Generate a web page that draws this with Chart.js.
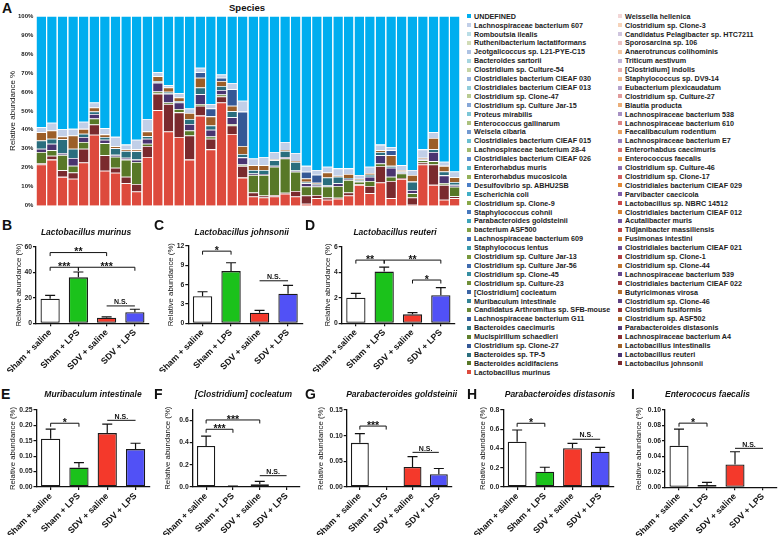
<!DOCTYPE html>
<html><head><meta charset="utf-8">
<script src="https://cdn.jsdelivr.net/npm/chart.js@4.4.1/dist/chart.umd.min.js"></script>
<style>
html,body{margin:0;padding:0;background:#fff;overflow:hidden}
#root{position:relative;width:778px;height:536px;overflow:hidden;font-family:'Liberation Sans',Arial,Helvetica,sans-serif;background:#fff}
.letter{position:absolute;font-weight:bold;font-size:14px;line-height:14px;color:#111}
.lg{position:absolute;font-weight:bold;font-size:7.2px;line-height:9px;color:#222;white-space:nowrap}
.sq{position:absolute;width:4px;height:4px}
</style></head><body><div id="root"></div>
<script>
// ---------------- DATA ----------------
const legendCol1 = ['UNDEFINED','Lachnospiraceae bacterium 607','Romboutsia ilealis','Ruthenibacterium lactatiformans','Jeotgalicoccus sp. L21-PYE-C15','Bacteroides sartorii','Clostridium sp. Culture-54','Clostridiales bacterium CIEAF 030','Clostridiales bacterium CIEAF 013','Clostridium sp. Clone-47','Clostridium sp. Culture Jar-15','Proteus mirabilis','Enterococcus gallinarum','Weisela cibaria','Clostridiales bacterium CIEAF 015','Lachnospiraceae bacterium 28-4','Clostridiales bacterium CIEAF 026','Enterorhabdus muris','Enterorhabdus mucosicola','Desulfovibrio sp. ABHU2SB','Escherichia coli','Clostridium sp. Clone-9','Staphylococcus cohnii','Parabacteroides goldsteinii','bacterium ASF500','Lachnospiraceae bacterium 609','Staphylococus lentus','Clostridium sp. Culture Jar-13','Clostridium sp. Culture Jar-56','Clostridium sp. Clone-45','Clostridium sp. Culture-23','[Clostridium] cocleatum','Muribaculum intestinale','Candidatus Arthromitus sp. SFB-mouse','Lachnospiraceae bacterium G11','Bacteroides caecimuris','Mucispirillum schaedleri','Clostridium sp. Clone-27','Bacteroides sp. TP-5','Bacteroides acidifaciens','Lactobacillus murinus'];
const legendCol2 = ['Weissella hellenica','Clostridium sp. Clone-3','Candidatus Pelagibacter sp. HTC7211','Sporosarcina sp. 106','Anaerotruncus colihominis','Triticum aestivum','[Clostridium] indolis','Staphylococcus sp. DV9-14','Eubacterium plexicaudatum','Clostridium sp. Culture-27','Blautia producta','Lachnospiraceae bacterium 538','Lachnospiraceae bacterium 610','Faecalibaculum rodentium','Lachnospiraceae bacterium E7','Enterorhabdus caecimuris','Enterococcus faecalis','Clostridium sp. Culture-46','Clostridium sp. Clone-17','Clostridiales bacterium CIEAF 029','Parvibacter caecicola','Lactobacillus sp. NBRC 14512','Clostridiales bacterium CIEAF 012','Acutalibacter muris','Tidjanibacter massiliensis','Fusimonas intestini','Clostridiales bacterium CIEAF 021','Clostridium sp. Clone-1','Clostridium sp. Clone-44','Lachnospiraceae bacterium 539','Clostridiales bacterium CIEAF 022','Butyricimonas virosa','Clostridium sp. Clone-46','Clostridium fusiformis','Clostridium sp. ASF502','Parabacteroides distasonis','Lachnospiraceae bacterium A4','Lactobacillus intestinalis','Lactobacillus reuteri','Lactobacilus johnsonii'];

const sampleIds = ['S1','S2','S3','S4','S5','S6','S7','S8','S9','S10','S11','S12','S13','S14','S15','S16','S17','S18','S19','S20','S21','S22','S23','S24','S25','S26','S27','S28','S29','S30','S31','S32','S33','S34','S35','S36','S37','S38','S39','S40'];

const lacMurinus      = [21.7,24.3,15.2,14.2,22.8,37.4,18.4,17.4,11.8,7.5, 25.7,50.4,39.1,36.2,24.3,47.5,29.7,54.4,37.8,14.8, 4.9,4.3,4.9,6.3,4.9,1.0,4.0,3.1,3.7,5.4, 11.0,6.6,12.2,4.0,14.1,0.5,21.7,11.0,3.1,4.0];
const lacJohnsonii    = [0.7,2.0,3.5,3.3,7.2,5.4,8.2,2.6,3.5,4.0, 5.8,8.7,14.5,13.0,12.7,5.2,5.6,3.2,4.5,6.2, 2.1,1.1,0.8,0.5,2.9,4.4,1.7,1.2,0.5,1.6, 0.3,3.8,8.7,9.0,0.5,3.8,1.1,10.7,7.9,1.0];
const bacAcidifaciens = [5.9,2.9,8.1,3.6,3.6,3.2,6.4,5.8,9.0,11.6, 1.2,1.1,0.8,1.8,2.7,0.9,1.2,1.0,0.8,0.7, 9.2,10.8,14.8,18.1,10.1,4.7,4.4,5.8,6.2,6.6, 1.4,2.6,1.4,2.3,2.4,2.3,1.2,1.8,1.0,5.0];
const lacReuteri      = [1.7,3.5,1.0,4.1,2.6,2.3,1.8,1.0,1.0,1.2, 2.6,4.7,4.7,3.4,3.4,5.2,3.5,2.4,3.5,3.8, 0.8,0.5,0.5,0.8,0.6,1.7,1.0,0.5,1.5,0.5, 0.5,2.3,4.3,4.7,0.5,1.7,0.5,4.8,4.0,1.0];
const bacTP5          = [4.4,2.6,7.2,4.8,1.7,1.4,1.4,3.5,3.5,4.4, 1.3,0.8,1.0,0.8,2.6,3.5,2.3,2.1,3.2,1.8, 1.8,2.1,3.0,3.2,4.6,0.8,0.5,4.3,3.4,0.5, 0.5,1.0,1.7,1.0,0.5,4.4,0.3,1.5,2.0,1.5];
const lacIntestinalis = [4.4,4.4,1.5,7.0,2.6,2.1,1.4,1.0,0.8,1.0, 2.6,2.6,2.2,1.8,3.2,5.2,4.8,2.6,2.9,4.2, 2.6,2.6,0.5,0.5,0.5,1.8,0.5,2.6,0.5,2.1, 0.5,1.0,1.0,5.6,0.8,3.5,0.5,5.9,3.0,2.5];
const cloClone27      = [0,0,0,0,0,0,0,0,0,0, 0,0,0,0,0,2.9,4.2,1.8,8.7,18.1, 0,0,0,0,0,3.5,4.2,0,0,0, 0,0,0,2.6,0,0,0,0,0,0];
const minorPale       = [2.6,4.0,3.8,3.5,3.8,2.6,3.3,5.0,2.6,5.1, 6.5,2.1,1.2,2.3,2.4,2.3,2.3,1.7,3.3,5.7, 3.5,4.3,3.8,4.2,4.2,3.1,2.5,3.0,3.9,3.0, 2.0,3.2,2.9,1.8,2.6,2.6,4.4,3.1,2.2,3.0];
const undefinedPct    = [58.6,56.3,59.7,59.5,55.7,45.6,59.1,63.7,67.8,65.2, 54.3,29.6,36.5,40.7,48.7,27.3,46.4,30.8,35.3,44.7, 75.1,74.3,71.7,66.4,72.2,79.0,81.2,79.5,80.3,80.3, 83.8,79.5,67.8,69.0,78.6,81.2,70.3,61.2,76.8,82.0];
const yTicksA = [0,10,20,30,40,50,60,70,80,90,100];

const groups = ['Sham + saline','Sham + LPS','SDV + saline','SDV + LPS'];
const murinusMean = [19.2,36.0,4.4,8.7],      murinusSem = [2.6,4.2,0.6,2.3];
const johnsoniiMean = [4.2,8.1,1.65,4.6],     johnsoniiSem = [0.7,1.3,0.35,1.3];
const reuteriMean = [2.0,4.05,0.7,2.2],       reuteriSem = [0.35,0.35,0.13,0.6];
const muribaculumMean = [0.157,0.063,0.175,0.123], muribaculumSem = [0.031,0.016,0.029,0.019];
const cocleatumMean = [0.369,0.005,0.025,0.0],     cocleatumSem = [0.09,0.003,0.025,0];
const goldsteiniiMean = [0.086,0.0,0.039,0.025],   goldsteiniiSem = [0.018,0,0.02,0.011];
const distasonisMean = [0.47,0.159,0.402,0.367],   distasonisSem = [0.122,0.046,0.052,0.045];
const faecalisMean = [0.0537,0.003,0.0294,0],      faecalisSem = [0.0216,0.0035,0.0166,0];

// significance brackets: [from, to, yValue, label]
const sigB = [[0,2,55.4,'**'],[0,1,43.9,'***'],[1,3,43.9,'***'],[2,3,13.6,'N.S.']];
const sigC = [[0,1,11.2,'*'],[2,3,6.6,'N.S.']];
const sigD = [[0,1,4.95,'**'],[1,3,4.95,'**'],[2,3,3.39,'*']];
const sigE = [[0,1,0.207,'*'],[2,3,0.2165,'N.S.']];
const sigF = [[0,2,0.604,'***'],[0,1,0.52,'***'],[2,3,0.102,'N.S.']];
const sigG = [[0,1,0.1187,'***'],[2,3,0.0675,'N.S.']];
const sigH = [[0,1,0.662,'*'],[2,3,0.496,'N.S.']];
const sigI = [[0,1,0.083,'*'],[2,3,0.0504,'N.S.']];

// ---------------- SETUP ----------------
const FONT = "'Liberation Sans', Arial, Helvetica, sans-serif";
Chart.defaults.font.family = FONT;
Chart.defaults.color = '#111';
Chart.defaults.animation = false;
const root = document.getElementById('root');

function hex2rgb(h){return [parseInt(h.slice(1,3),16),parseInt(h.slice(3,5),16),parseInt(h.slice(5,7),16)];}
function mix(a,b,t){const A=hex2rgb(a),B=hex2rgb(b);return 'rgb('+A.map((v,i)=>Math.round(v+(B[i]-v)*t)).join(',')+')';}
const families = [
  ['#7a2a2e','#c84a4a','#f2d6d6'],
  ['#587828','#88a848','#dde5c9'],
  ['#4a3470','#7e5ca8','#ddd7e7'],
  ['#2a6e7e','#40aec6','#cde5eb'],
  ['#9c5e28','#e08838','#fae0d0'],
  ['#345896','#4a7ec6','#d5ddee']
];
function speciesColor(name,k){
  if(name==='UNDEFINED') return '#00aeef';
  if(k===0) return '#dd4a3d';
  const f=families[(k-1)%6]; const l=Math.floor((k-1)/6);
  return l<=6 ? mix(f[0],f[1],l/6) : mix(f[1],f[2],(l-6)/7);
}

const legendItems = [];
for(let r=0;r<legendCol1.length;r++){ legendItems.push(legendCol1[r]); if(r<legendCol2.length) legendItems.push(legendCol2[r]); }
const stackOrder = legendItems.slice().reverse();

const seriesValues = {
  'Lactobacillus murinus': lacMurinus,
  'Lactobacilus johnsonii': lacJohnsonii,
  'Bacteroides acidifaciens': bacAcidifaciens,
  'Lactobacillus reuteri': lacReuteri,
  'Bacteroides sp. TP-5': bacTP5,
  'Lactobacillus intestinalis': lacIntestinalis,
  'Clostridium sp. Clone-27': cloClone27,
  'Lachnospiraceae bacterium 607': minorPale,
  'UNDEFINED': undefinedPct
};

function makeCanvas(x,y,w,h){
  const c=document.createElement('canvas'); c.width=w; c.height=h;
  c.style.cssText=`position:absolute;left:${x}px;top:${y}px;width:${w}px;height:${h}px`;
  root.appendChild(c); return c;
}
function addDiv(cls,text,x,y,extra){
  const d=document.createElement('div'); d.className=cls; d.textContent=text;
  d.style.left=x+'px'; d.style.top=y+'px'; if(extra) d.style.cssText+=extra; root.appendChild(d); return d;
}

// ---------------- PANEL A ----------------
addDiv('letter','A',2,1.4);
addDiv('lg','Species',200,2,'width:94px;text-align:center;font-size:9.5px;line-height:11px;color:#111');

const dsA = [];
stackOrder.forEach((name,k)=>{
  if(seriesValues[name]) dsA.push({label:name,data:seriesValues[name],backgroundColor:speciesColor(name,k),
    borderColor:'rgba(255,255,255,0.75)',borderWidth:{top:0.8,left:0,right:0,bottom:0},borderSkipped:'start',
    barPercentage:0.9,categoryPercentage:1.0});
});
new Chart(makeCanvas(0,0,462,212),{
  type:'bar',
  data:{labels:sampleIds,datasets:dsA},
  options:{responsive:false,devicePixelRatio:1,animation:false,
    layout:{padding:{left:0,top:16,right:2,bottom:4.3}},
    plugins:{legend:{display:false},tooltip:{enabled:false}},
    scales:{
      x:{stacked:true,display:false,offset:true},
      y:{stacked:true,min:0,max:100,
        afterBuildTicks:s=>{s.ticks=yTicksA.map(v=>({value:v}));},
        afterFit:s=>{s.width=36;},
        ticks:{callback:v=>v+'%',font:{size:6,weight:'bold'},color:'#222',padding:2.7},
        grid:{display:false,drawTicks:false},border:{display:false},
        title:{display:true,text:'Relative abundance %',font:{size:8},color:'#111',padding:{top:8.2,bottom:0}}}
    }
  }
});

legendItems.forEach((name,j)=>{
  const col=j%2,row=Math.floor(j/2),k=legendItems.length-1-j;
  const cy=16.3+row*8.9;
  const sq=document.createElement('div'); sq.className='sq';
  sq.style.left=(col?617.5:466.5)+'px'; sq.style.top=(cy-2)+'px'; sq.style.background=speciesColor(name,k);
  root.appendChild(sq);
  addDiv('lg',name,col?625:474,cy-4.6);
});

// ---------------- SMALL PANELS ----------------
const barColors=['#ffffff','#1bc21b','#f4392b','#5151f6'];
const panels=[
  {letter:'B',lx:2,ly:218.4,title:'Lactobacillus murinus',mean:murinusMean,sem:murinusSem,sig:sigB,ymax:60,step:20,dec:0,
   left:36,right:149,top:246.7,bottom:323.3,titleX:86,titleY:233,yTitleD:17},
  {letter:'C',lx:154,ly:218.4,title:'Lactobacillus johnsonii',mean:johnsoniiMean,sem:johnsoniiSem,sig:sigC,ymax:12,step:3,dec:0,
   left:188.3,right:302.3,top:246,bottom:323.3,titleX:241.7,titleY:233,yTitleD:17.6},
  {letter:'D',lx:305,ly:218.4,title:'Lactobacillus reuteri',mean:reuteriMean,sem:reuteriSem,sig:sigD,ymax:6,step:2,dec:0,
   left:341.7,right:455,top:246.7,bottom:323.3,titleX:395,titleY:233,yTitleD:13.4},
  {letter:'E',lx:1,ly:387.4,title:'Muribaculum intestinale',mean:muribaculumMean,sem:muribaculumSem,sig:sigE,ymax:0.25,step:0.05,dec:2,
   left:36.5,right:149.7,top:410,bottom:487,titleX:93,titleY:394.7,yTitleD:23.5},
  {letter:'F',lx:154,ly:387.4,title:'[Clostridium] cocleatum',mean:cocleatumMean,sem:cocleatumSem,sig:sigF,ymax:0.7,step:0.1,dec:1,
   left:192.7,right:300,top:409.3,bottom:487,titleX:243.3,titleY:394.7,yTitleD:24.4},
  {letter:'G',lx:305,ly:387.4,title:'Parabacteroides goldsteinii',mean:goldsteiniiMean,sem:goldsteiniiSem,sig:sigG,ymax:0.15,step:0.05,dec:2,
   left:346.7,right:452,top:410,bottom:487,titleX:401.7,titleY:394.7,yTitleD:26},
  {letter:'H',lx:467,ly:387.4,title:'Parabacteroides distasonis',mean:distasonisMean,sem:distasonisSem,sig:sigH,ymax:0.8,step:0.2,dec:1,
   left:503.3,right:614,top:410,bottom:487,titleX:560,titleY:394.7,yTitleD:20},
  {letter:'I',lx:631,ly:387.4,title:'Enterococus faecalis',mean:faecalisMean,sem:faecalisSem,sig:sigI,ymax:0.10,step:0.02,dec:2,
   left:665,right:777,top:410,bottom:487.3,titleX:707.5,titleY:394.7,yTitleD:26}
];

panels.forEach(p=>{
  addDiv('letter',p.letter,p.lx,p.ly);
  const YW=44,PT=32,XH=48,EXTRA=24;
  const cl=Math.round(p.left-YW), ct=Math.round(p.top-PT);
  const yw=p.left-cl, pt=p.top-ct;
  const cw=Math.ceil(p.right+EXTRA-cl), ch=Math.ceil(p.bottom-ct+XH);
  const padRight=cw-(p.right-cl);
  const xh=ch-(p.bottom-ct);
  const tfs=7.8, lh=tfs*1.2;
  const yTitlePad=yw-p.yTitleD-lh/2;
  const nTicks=Math.round(p.ymax/p.step);
  const tickVals=[]; for(let i=0;i<=nTicks;i++) tickVals.push(i*p.step);

  const deco={id:'deco'+p.letter,afterDatasetsDraw(chart){
    const ctx=chart.ctx,ys=chart.scales.y,xs=chart.scales.x,meta=chart.getDatasetMeta(0);
    ctx.save(); ctx.strokeStyle='#111'; ctx.fillStyle='#111'; ctx.lineWidth=1.2;
    p.mean.forEach((m,i)=>{
      const s=p.sem[i]; if(!(s>0)) return;
      const x=meta.data[i].x, y0=ys.getPixelForValue(m), y1=ys.getPixelForValue(m+s);
      ctx.beginPath(); ctx.moveTo(x,y0); ctx.lineTo(x,y1); ctx.moveTo(x-5,y1); ctx.lineTo(x+5,y1); ctx.stroke();
    });
    ctx.lineWidth=1;
    p.sig.forEach(([a,b,v,lab])=>{
      const xa=xs.getPixelForValue(a), xb=xs.getPixelForValue(b), y=ys.getPixelForValue(v);
      const ns=lab==='N.S.';
      ctx.beginPath();
      if(ns){ ctx.moveTo(xa,y); ctx.lineTo(xb,y); }
      else { ctx.moveTo(xa,y+3.5); ctx.lineTo(xa,y); ctx.lineTo(xb,y); ctx.lineTo(xb,y+3.5); }
      ctx.stroke();
      ctx.textAlign='center'; ctx.textBaseline='alphabetic';
      if(ns){ ctx.font='bold 7px '+FONT; ctx.fillText(lab,(xa+xb)/2,y-1.8); }
      else { ctx.font='bold 10.5px '+FONT; ctx.fillText(lab,(xa+xb)/2,y+2.8); }
    });
    ctx.font='italic bold 8.5px '+FONT; ctx.textAlign='center'; ctx.textBaseline='middle';
    ctx.fillText(p.title,p.titleX-cl,p.titleY-ct);
    ctx.restore();
  }};

  new Chart(makeCanvas(cl,ct,cw,ch),{
    type:'bar',
    data:{labels:groups,datasets:[{label:p.title,data:p.mean,backgroundColor:barColors,borderColor:'#1a1a1a',
      borderWidth:1.3,borderSkipped:false,barPercentage:0.68,categoryPercentage:1.0}]},
    options:{responsive:false,devicePixelRatio:1,animation:false,
      layout:{padding:{left:0,top:pt,right:padRight,bottom:0}},
      plugins:{legend:{display:false},tooltip:{enabled:false}},
      scales:{
        x:{offset:true,afterFit:s=>{s.height=xh;},
          grid:{display:true,drawOnChartArea:false,drawTicks:true,tickLength:3,offset:false,color:'#111',lineWidth:1.2},
          border:{display:true,color:'#111',width:1.3},
          ticks:{autoSkip:false,maxRotation:45,minRotation:45,padding:1,color:'#111',font:{size:8.8,weight:'bold'}}},
        y:{min:0,max:p.ymax,afterFit:s=>{s.width=yw;},
          afterBuildTicks:s=>{s.ticks=tickVals.map(v=>({value:v}));},
          grid:{display:true,drawOnChartArea:false,drawTicks:true,tickLength:3,color:'#111',lineWidth:1.2},
          border:{display:true,color:'#111',width:1.3},
          ticks:{padding:1,color:'#222',font:{size:6.8,weight:'bold'},callback:v=>Number(v).toFixed(p.dec)},
          title:{display:true,text:'Relative abundance (%)',color:'#111',font:{size:tfs},padding:{top:yTitlePad,bottom:0}}}
      }
    },
    plugins:[deco]
  });
});
</script>
</body></html>
